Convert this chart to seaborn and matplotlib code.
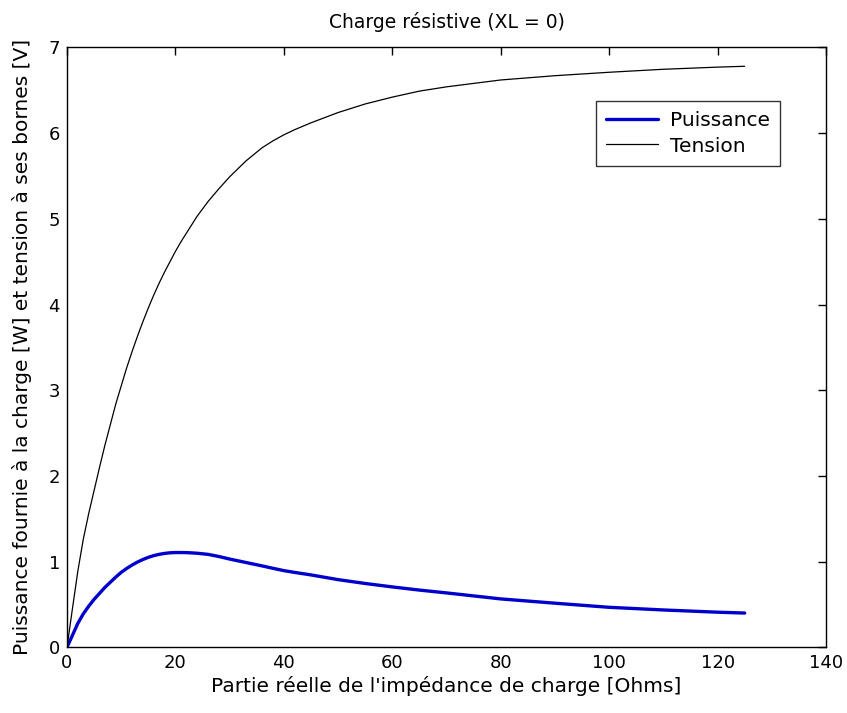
import matplotlib
matplotlib.use("Agg")
import matplotlib.pyplot as plt
import seaborn as sns
import pandas as pd
from matplotlib.lines import Line2D

# Load resistance [Ohms]
resistance = [0, 1, 2, 3, 4, 5, 6, 7, 8, 9, 10, 11, 12, 13, 14, 15, 16, 17, 18,
              19, 20, 21, 22, 23, 24, 26, 28, 30, 33, 36, 38, 40, 42, 45, 50,
              55, 60, 65, 70, 80, 90, 100, 110, 120, 125]
# Power delivered to the load [W]
puissance = [0.0, 0.14, 0.28, 0.39, 0.48, 0.56, 0.63, 0.70, 0.76, 0.82, 0.875,
             0.92, 0.96, 0.995, 1.025, 1.05, 1.07, 1.085, 1.096, 1.103, 1.106,
             1.106, 1.105, 1.102, 1.098, 1.085, 1.06, 1.03, 0.99, 0.95, 0.922,
             0.895, 0.874, 0.845, 0.79, 0.745, 0.705, 0.668, 0.635, 0.565,
             0.515, 0.467, 0.436, 0.41, 0.40]
# Voltage across the load [V]
tension = [0.0, 0.45, 0.89, 1.26, 1.56, 1.83, 2.10, 2.36, 2.60, 2.84, 3.05,
           3.26, 3.45, 3.63, 3.80, 3.96, 4.11, 4.25, 4.38, 4.50, 4.62, 4.73,
           4.83, 4.93, 5.03, 5.20, 5.35, 5.49, 5.675, 5.83, 5.91, 5.98, 6.04,
           6.12, 6.24, 6.34, 6.42, 6.49, 6.54, 6.62, 6.67, 6.71, 6.745, 6.77,
           6.78]

x_ticks = [0, 20, 40, 60, 80, 100, 120, 140]
y_ticks = [0, 1, 2, 3, 4, 5, 6, 7]

sns.set_theme(style="white")
plt.rcParams['font.family'] = ['DejaVu Sans']
plt.rcParams['text.color'] = 'black'
plt.rcParams['axes.labelcolor'] = 'black'

df = pd.DataFrame({"R": resistance + resistance,
                   "val": puissance + tension,
                   "serie": ["Puissance"] * len(resistance) + ["Tension"] * len(resistance)})

fig = plt.figure(figsize=(8.47, 7.13), dpi=100)
ax = fig.add_axes([0.0791, 0.0921, 0.8961, 0.8414])

sns.lineplot(data=df, x="R", y="val", hue="serie", size="serie",
             palette={"Puissance": "#0000cc", "Tension": "black"},
             sizes={"Puissance": 2.4, "Tension": 0.9},
             ax=ax, legend=False, sort=False)

ax.set_xlim(0, 140)
ax.set_ylim(0, 7)
ax.set_xticks(x_ticks)
ax.set_yticks(y_ticks)
ax.tick_params(direction="in", length=6, width=1, top=True, right=True,
               labelsize=13, colors="black", pad=5)
for s in ax.spines.values():
    s.set_visible(True)
    s.set_color("black")
    s.set_linewidth(1.0)

ax.set_title("Charge résistive (XL = 0)", fontsize=13.5, pad=14, color="black")
ax.set_xlabel("Partie réelle de l'impédance de charge [Ohms]", fontsize=14.5, labelpad=3)
ax.set_ylabel("Puissance fournie à la charge [W] et tension à ses bornes [V]",
              fontsize=14.5, labelpad=12)

handles = [Line2D([], [], color="#0000cc", lw=2.4), Line2D([], [], color="black", lw=0.9)]
leg = ax.legend(handles, ["Puissance", "Tension"], loc="upper right",
                bbox_to_anchor=(0.94, 0.91), fontsize=14.5, frameon=True,
                fancybox=False, edgecolor="black", handlelength=2.6,
                borderpad=0.5, labelspacing=0.3, handletextpad=0.6,
                borderaxespad=0)
leg.get_frame().set_linewidth(1.0)
for t in leg.get_texts():
    t.set_color("black")

fig.savefig("out.png", dpi=100)
